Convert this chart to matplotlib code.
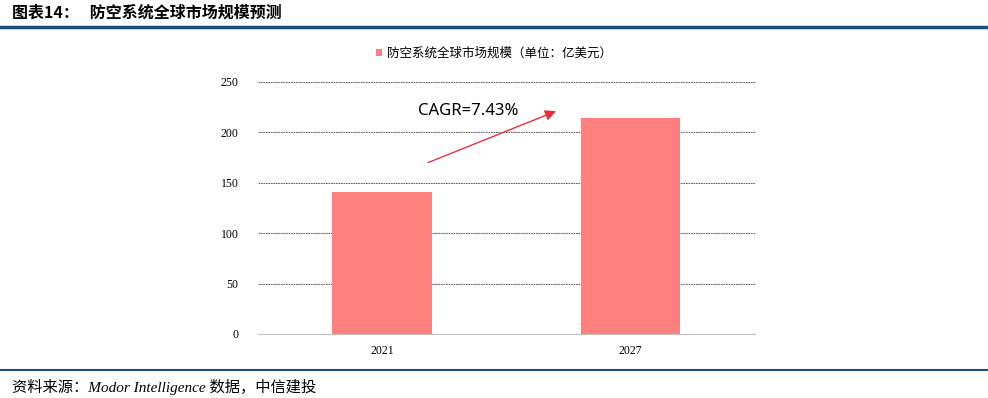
import matplotlib
matplotlib.use("Agg")
import matplotlib.pyplot as plt
from matplotlib.patches import Patch

plt.rcParams['font.family'] = ['Noto Sans CJK SC', 'DejaVu Sans']

# data
years = ['2021', '2027']
market_size = [141, 214]
legend_label = '防空系统全球市场规模（单位：亿美元）'
cagr_text = 'CAGR=7.43%'
title = '图表14：   防空系统全球市场规模预测'
source = '资料来源：Modor Intelligence 数据，中信建投'

bar_color = '#FF7F7F'
line_blue = '#1F4E79'

fig = plt.figure(figsize=(9.88, 3.98), dpi=100)
ax = fig.add_axes([0.261, 0.161, 0.503, 0.633])

x = range(len(years))
ax.bar(x, market_size, width=0.4, color=bar_color, zorder=2)
ax.set_xlim(-0.5, 1.5)
ax.set_ylim(0, 250)
ax.set_yticks([0, 50, 100, 150, 200, 250])
ax.set_xticks(list(x))
ax.set_xticklabels(years)

serif = ['Liberation Serif', 'DejaVu Serif']
for lbl in ax.get_xticklabels() + ax.get_yticklabels():
    lbl.set_family(serif)
    lbl.set_fontsize(8.5)
ax.tick_params(axis='both', length=0)
ax.tick_params(axis='y', pad=14)
ax.tick_params(axis='x', pad=8)

for s in ['top', 'right', 'left']:
    ax.spines[s].set_visible(False)
ax.spines['bottom'].set_color('#BFBFBF')
ax.yaxis.grid(True, linestyle=(0, (2, 1)), color='#404040', linewidth=0.6, zorder=0)
for gl in ax.yaxis.get_gridlines()[:1]:
    gl.set_visible(False)

# CAGR arrow
ax.annotate('', xy=(0.70, 221), xytext=(0.185, 170),
            arrowprops=dict(arrowstyle='-|>', color='#E8313A', lw=1.0,
                            mutation_scale=16, shrinkA=0, shrinkB=0))
ax.text(0.145, 221, cagr_text, fontsize=12, va='center', ha='left',
        family=['Noto Sans', 'DejaVu Sans'])

# legend
handle = Patch(facecolor=bar_color, edgecolor='none')
fig.legend([handle], [legend_label], loc='center', bbox_to_anchor=(0.5, 0.866),
           frameon=False, fontsize=9, handlelength=0.5, handleheight=0.5,
           handletextpad=0.4)

# header and footer
fig.text(0.012, 0.968, title, fontsize=11.5, fontweight='bold', va='center', ha='left')
fig.add_artist(plt.Line2D([0, 1], [0.932, 0.932], color=line_blue, lw=2.5,
                          transform=fig.transFigure))
fig.add_artist(plt.Line2D([0, 1], [0.07, 0.07], color=line_blue, lw=1.5,
                          transform=fig.transFigure))
fig.text(0.012, 0.028, source, fontsize=11, style='italic', va='center', ha='left',
         family=['Liberation Serif', 'Noto Sans CJK SC'])

fig.savefig('out.png', dpi=100)
